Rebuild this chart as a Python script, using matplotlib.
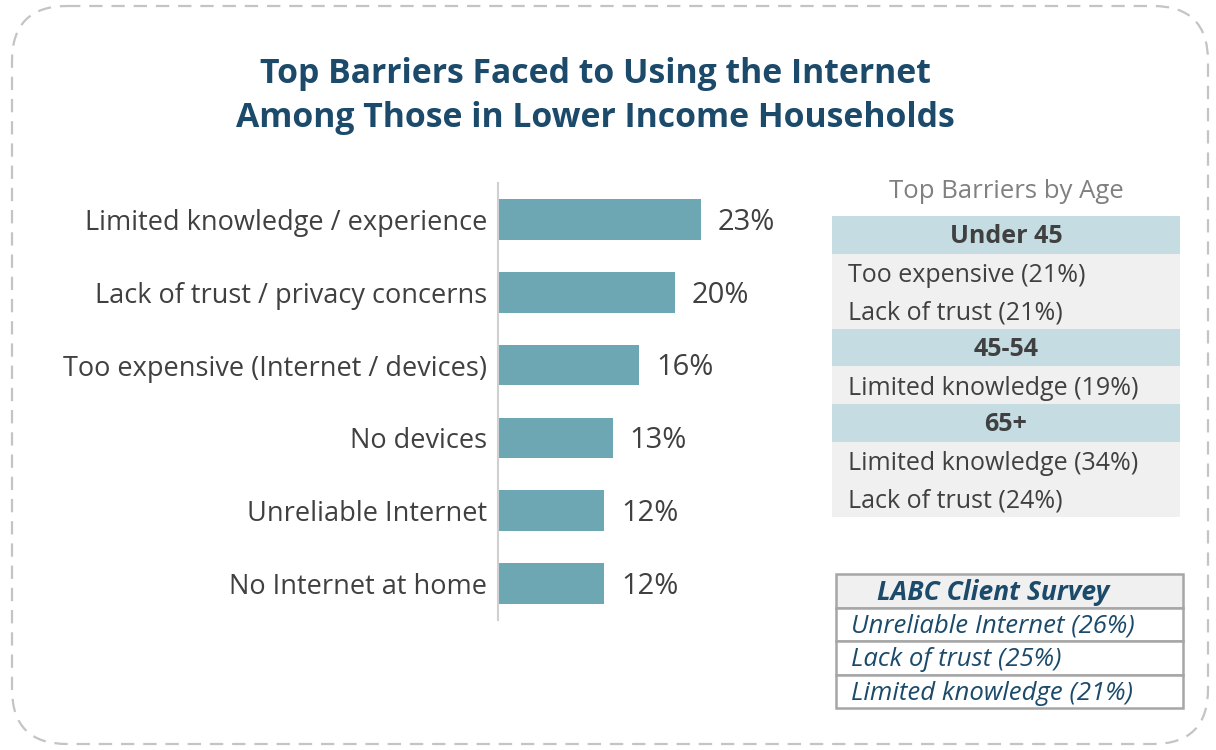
import matplotlib
matplotlib.use("Agg")
import matplotlib.pyplot as plt
from matplotlib.patches import FancyBboxPatch, Rectangle

plt.rcParams['font.family'] = ['Open Sans', 'DejaVu Sans']

# data
categories = [
    "Limited knowledge / experience",
    "Lack of trust / privacy concerns",
    "Too expensive (Internet / devices)",
    "No devices",
    "Unreliable Internet",
    "No Internet at home",
]
values = [23, 20, 16, 13, 12, 12]

title_lines = ["Top Barriers Faced to Using the Internet",
               "Among Those in Lower Income Households"]

age_title = "Top Barriers by Age"
age_groups = ["Under 45", "45-54", "65+"]
age_barriers = [
    ["Too expensive (21%)", "Lack of trust (21%)"],
    ["Limited knowledge (19%)"],
    ["Limited knowledge (34%)", "Lack of trust (24%)"],
]

survey_title = "LABC Client Survey"
survey_rows = ["Unreliable Internet (26%)", "Lack of trust (25%)", "Limited knowledge (21%)"]

# colours
BAR = "#6da7b3"
TXT = "#404040"
NAVY = "#1b4a6b"
HEAD = "#c5dde2"
LIGHT = "#f0f0f0"

W, H = 1216, 750
fig = plt.figure(figsize=(W / 100, H / 100), dpi=100)

# overlay in pixel coordinates for border, title and side tables
bg = fig.add_axes([0, 0, 1, 1], zorder=0)
bg.set_xlim(0, W)
bg.set_ylim(H, 0)
bg.axis("off")

bg.add_patch(FancyBboxPatch((12, 6), 1196, 738, boxstyle="round,pad=0,rounding_size=55",
                            fill=False, edgecolor="#c4c4c4", linewidth=1.6,
                            linestyle=(0, (6, 4))))

bg.text(595, 74, title_lines[0], ha="center", va="center", fontsize=24.3,
        fontweight="bold", color=NAVY)
bg.text(595, 118, title_lines[1], ha="center", va="center", fontsize=24.3,
        fontweight="bold", color=NAVY)

# age table
bg.text(1006, 192, age_title, ha="center", va="center", fontsize=18.5, color="#808080")
y = 216
row_h = 37.6
for grp, items in zip(age_groups, age_barriers):
    bg.add_patch(Rectangle((832, y), 348, row_h, facecolor=HEAD, edgecolor="none"))
    bg.text(1006, y + row_h / 2 + 2, grp, ha="center", va="center", fontsize=18,
            fontweight="bold", color=TXT)
    y += row_h
    bg.add_patch(Rectangle((832, y), 348, row_h * len(items), facecolor=LIGHT,
                           edgecolor="none"))
    for it in items:
        bg.text(848, y + row_h / 2 + 3, it, ha="left", va="center", fontsize=18, color=TXT)
        y += row_h

# survey box
sy = 574
sh = 33.5
bg.add_patch(Rectangle((836, sy), 347, sh, facecolor=LIGHT, edgecolor="#a6a6a6",
                       linewidth=1.8))
bg.text(993, sy + sh / 2 + 2, survey_title, ha="center", va="center", fontsize=19,
        fontweight="bold", fontstyle="italic", color=NAVY)
for i, r in enumerate(survey_rows):
    ry = sy + sh * (i + 1)
    bg.add_patch(Rectangle((836, ry), 347, sh, facecolor="white", edgecolor="#a6a6a6",
                           linewidth=1.8))
    bg.text(851, ry + sh / 2 + 2, r, ha="left", va="center", fontsize=18.5,
            fontstyle="italic", color=NAVY)

# bar chart
px_per_pct = 8.83
ax = fig.add_axes([498 / W, 1 - 620 / H, 300 / W, 437 / H], zorder=1)
ax.patch.set_alpha(0)
ypos = list(range(len(categories)))
ax.barh(ypos, values, height=0.56, color=BAR)
ax.set_xlim(0, 300 / px_per_pct)
ax.set_ylim(len(categories) - 0.5, -0.5)
ax.set_yticks(ypos)
ax.set_yticklabels(categories, fontsize=19.5, color=TXT)
ax.tick_params(axis="y", length=0, pad=8)
ax.set_xticks([])
for s in ["top", "right", "bottom"]:
    ax.spines[s].set_visible(False)
ax.spines["left"].set_color("#d0d0d0")
ax.spines["left"].set_linewidth(1.5)
for i, v in enumerate(values):
    ax.text(v + 17 / px_per_pct, i + 0.04, f"{v}%", ha="left", va="center", fontsize=21,
            color=TXT)

fig.savefig("out.png", dpi=100)
